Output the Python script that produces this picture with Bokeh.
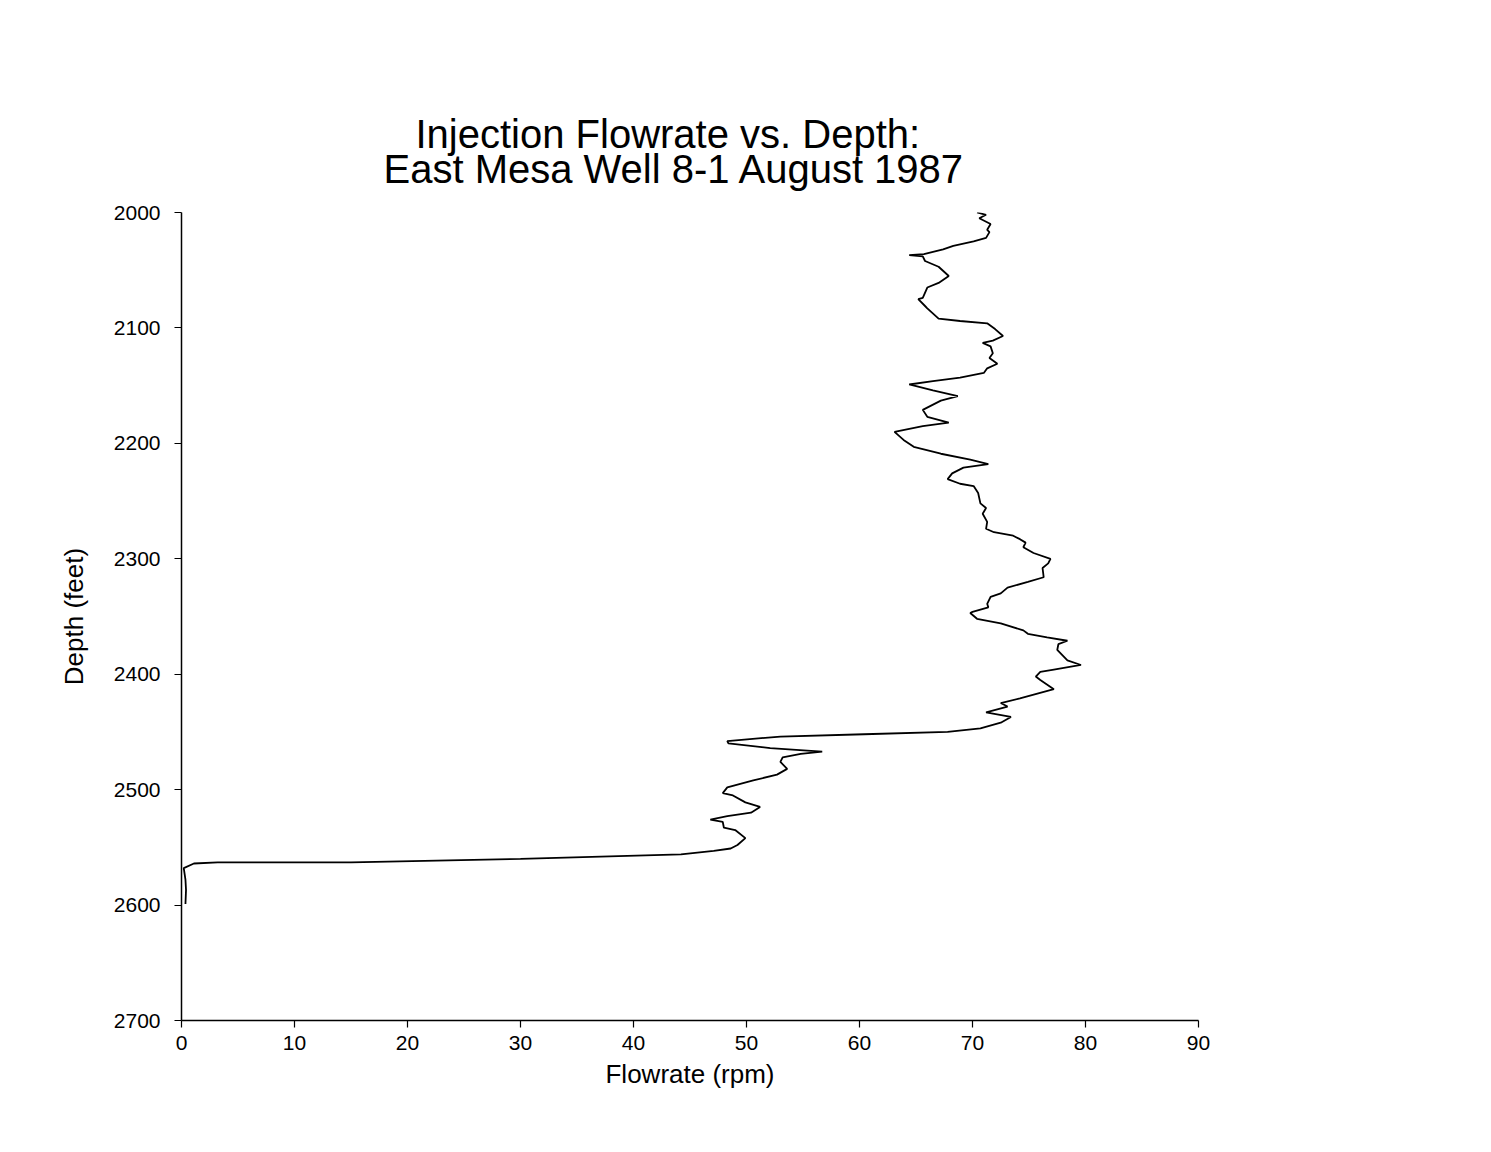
from bokeh.plotting import figure
from bokeh.models import Range1d, Title, FixedTicker
from bokeh.embed import file_html
from bokeh.resources import INLINE

# Flowrate (rpm) and depth (feet)
flowrate = [70.4, 71.2, 70.6, 71.6, 71.3, 71.5, 71.2, 70.1, 68.3, 67.4, 65.7, 64.4, 65.6, 65.8,
            67.0, 67.9, 67.0, 66.0, 65.6, 65.2, 65.8, 66.0, 67.0, 68.9, 71.3, 72.0, 72.7, 71.8,
            70.9, 71.6, 71.8, 71.5, 72.2, 71.3, 71.0, 68.9, 66.5, 64.4, 66.5, 68.7, 67.2, 65.6,
            66.0, 67.9, 65.6, 63.1, 63.9, 64.8, 67.2, 69.8, 71.4, 69.2, 68.2, 67.8, 68.9, 70.1,
            70.5, 70.7, 71.2, 70.9, 71.3, 71.2, 71.9, 73.6, 74.2, 74.7, 74.5, 75.4, 76.9, 76.7,
            76.2, 76.3, 74.9, 73.1, 72.5, 71.6, 71.3, 71.4, 70.0, 69.8, 70.4, 72.5, 74.5, 74.9,
            76.6, 78.4, 77.6, 77.5, 78.4, 79.6, 77.2, 76.0, 75.6, 76.0, 77.2, 74.2, 72.5, 73.1,
            71.2, 73.4, 72.5, 70.7, 67.8, 60.4, 53.0, 48.3, 48.4, 52.1, 56.7, 54.8, 53.2, 53.0,
            53.6, 52.7, 50.6, 48.3, 47.9, 48.8, 49.9, 51.2, 50.4, 48.3, 46.8, 47.9, 48.0, 49.0,
            49.9, 49.2, 48.6, 47.1, 44.2, 30.0, 15.0, 3.2, 1.1, 0.2, 0.35, 0.4, 0.35]
depth = [2000, 2002, 2005, 2010, 2015, 2017, 2022, 2025, 2029, 2032, 2036, 2037, 2038, 2042,
         2047, 2055, 2061, 2065, 2074, 2075, 2081, 2083, 2092, 2094, 2096, 2101, 2107, 2111,
         2113, 2116, 2122, 2126, 2131, 2135, 2139, 2143, 2146, 2149, 2154, 2159, 2163, 2171,
         2177, 2182, 2185, 2190, 2197, 2203, 2209, 2214, 2218, 2221, 2226, 2231, 2235, 2237,
         2243, 2252, 2256, 2261, 2268, 2274, 2277, 2280, 2283, 2286, 2290, 2295, 2300, 2304,
         2308, 2316, 2320, 2325, 2330, 2333, 2339, 2342, 2346, 2347, 2352, 2356, 2362, 2365,
         2368, 2371, 2374, 2379, 2388, 2392, 2396, 2398, 2402, 2405, 2413, 2421, 2425, 2428,
         2433, 2437, 2442, 2447, 2450, 2452, 2454, 2458, 2460, 2464, 2467, 2469, 2472, 2476,
         2482, 2487, 2492, 2498, 2503, 2505, 2511, 2515, 2520, 2523, 2526, 2528, 2533, 2535,
         2542, 2548, 2551, 2553, 2556, 2560, 2563, 2563, 2564, 2568, 2578, 2587, 2599]

x_ticks = [0, 10, 20, 30, 40, 50, 60, 70, 80, 90]
y_ticks = [2000, 2100, 2200, 2300, 2400, 2500, 2600, 2700]
title_lines = ["Injection Flowrate vs. Depth:", "East Mesa Well 8-1 August 1987"]

FONT = "Liberation Sans"

p = figure(output_backend="svg", toolbar_location=None,
           frame_width=1017, frame_height=808,
           min_border_left=181, min_border_right=293,
           min_border_top=212, min_border_bottom=132,
           x_range=Range1d(0, 90), y_range=Range1d(2700, 2000))

p.line(flowrate, depth, line_color="black", line_width=1.8)

# two centred title lines (second line added first: closest to the frame)
p.add_layout(Title(text=title_lines[1], align="left", offset=202,
                   text_font=FONT, text_font_size="40px", text_font_style="normal",
                   text_color="black", standoff=43), "above")
p.add_layout(Title(text=title_lines[0], align="left", offset=234,
                   text_font=FONT, text_font_size="40px", text_font_style="normal",
                   text_color="black", standoff=-65), "above")

p.grid.visible = False
p.outline_line_color = None
p.background_fill_color = "white"
p.border_fill_color = "white"

for ax in (p.xaxis, p.yaxis):
    ax.axis_line_color = "black"
    ax.axis_line_width = 1.5
    ax.major_tick_line_color = "black"
    ax.major_tick_line_width = 1.2
    ax.major_tick_in = 0
    ax.major_tick_out = 7
    ax.minor_tick_line_color = None
    ax.major_label_text_font = FONT
    ax.major_label_text_font_size = "21px"
    ax.major_label_text_color = "black"
    ax.axis_label_text_font = FONT
    ax.axis_label_text_font_size = "26px"
    ax.axis_label_text_font_style = "normal"
    ax.axis_label_text_color = "black"

p.xaxis.ticker = FixedTicker(ticks=x_ticks)
p.yaxis.ticker = FixedTicker(ticks=y_ticks)
p.xaxis.axis_label = "Flowrate (rpm)"
p.yaxis.axis_label = "Depth (feet)"
p.xaxis.major_label_standoff = 8
p.yaxis.major_label_standoff = 14
p.xaxis.axis_label_standoff = 6
p.yaxis.axis_label_standoff = 22

open("out.html", "w").write(file_html(p, INLINE))
